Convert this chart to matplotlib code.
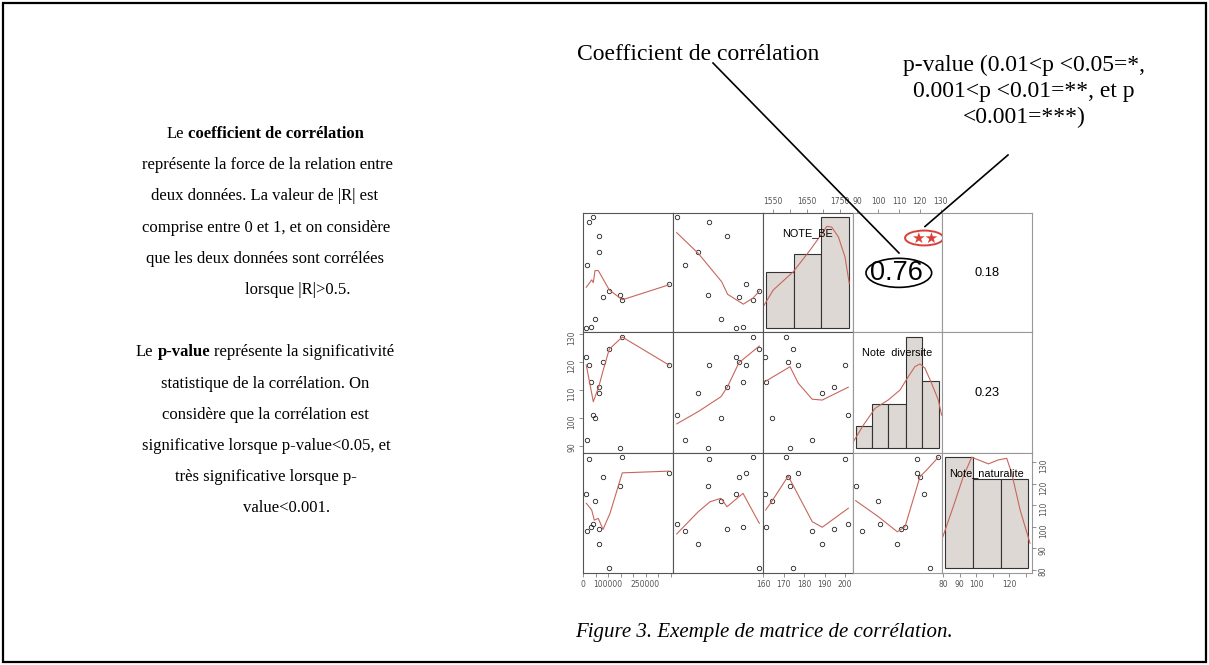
import matplotlib.pyplot as plt
from matplotlib.patches import Ellipse, Rectangle
from matplotlib.lines import Line2D

pop = [13200, 16000, 22800, 32000, 41200, 48000, 62800, 62800, 80000, 105200, 149200, 157200, 344000]
var1 = [69.7, 13.0, 40.0, 77.8, 4.1, 53.3, 60.0, 28.1, 73.3, 95.9, 39.2, 89.2, 81.4]
note_be = [161.0, 184.0, 200.0, 161.3, 201.6, 164.2, 194.8, 188.9, 172.3, 174.8, 173.2, 171.2, 177.2]
note_div = [121.9, 92.1, 118.9, 113.0, 101.1, 100.0, 111.0, 109.0, 119.9, 124.8, 89.2, 128.9, 118.9]
note_nat = [115.0, 97.9, 131.2, 100.0, 101.2, 112.1, 99.0, 91.9, 123.2, 80.8, 119.0, 132.5, 125.0]

col_vars = [pop, var1, note_be, note_div, note_nat]
row_vars = [note_be, note_div, note_nat]

# smoothing lines (panel.smooth) read per panel
smooth_x = {
    (0, 0): [13200, 34800, 41200, 48000, 61200, 105200, 157200, 344000],
    (0, 1): [4.1, 28.1, 54.1, 60.7, 78.1, 89.2, 95.9],
    (1, 0): [13200, 41200, 62800, 80000, 105200, 157200, 344000],
    (1, 1): [4.1, 28.1, 53.3, 60.3, 73.3, 95.9],
    (1, 2): [161.0, 173.2, 177.2, 184.0, 188.9, 201.6],
    (2, 0): [13200, 34800, 45200, 61200, 80000, 108000, 157200, 344000],
    (2, 1): [4.1, 28.1, 41.1, 53.3, 60.0, 77.8, 95.9],
    (2, 2): [161.3, 164.5, 172.3, 184.0, 188.9, 201.6],
    (2, 3): [89.2, 100.1, 109.2, 112.9, 120.1, 123.3, 128.9],
}
smooth_y = {
    (0, 0): [176.0, 178.7, 177.7, 182.1, 182.1, 175.0, 171.4, 176.9],
    (0, 1): [196.0, 188.4, 178.0, 173.4, 169.8, 172.1, 174.6],
    (1, 0): [118.9, 105.8, 111.1, 116.8, 124.6, 128.9, 118.9],
    (1, 1): [97.9, 102.3, 107.6, 111.0, 119.75, 125.7],
    (1, 2): [113.0, 118.3, 112.4, 106.7, 106.4, 111.0],
    (2, 0): [110.9, 107.8, 103.1, 103.9, 98.8, 106.25, 125.0, 125.8],
    (2, 1): [96.7, 107.0, 111.6, 113.2, 109.3, 115.5, 101.6],
    (2, 2): [107.8, 112.1, 123.5, 102.4, 99.8, 108.6],
    (2, 3): [112.1, 104.7, 97.7, 100.0, 123.2, 126.3, 132.2],
}

# diagonal histograms + density curves
hist_edges = {
    (0, 2): [161.5, 175.1, 188.3, 202.1],
    (1, 3): [89.2, 96.9, 104.9, 113.2, 121.2, 129.2],
    (2, 4): [81.2, 98.4, 115.2, 131.7],
}
hist_counts = {
    (0, 2): [3, 4, 6],
    (1, 3): [1, 2, 2, 5, 3],
    (2, 4): [5, 4, 4],
}
dens_x = {
    (0, 2): [160.1, 165.0, 174.8, 183.0, 188.7, 191.1, 193.5, 196.8, 200.0, 202.1],
    (1, 3): [88.1, 92.9, 98.5, 104.9, 110.5, 114.5, 117.7, 120.1, 122.5, 125.7, 128.9, 130.5],
    (2, 4): [79.2, 86.2, 92.3, 97.4, 107.5, 113.5, 118.6, 121.6, 126.7, 132.7],
}
dens_y = {
    (0, 2): [1.14, 2.04, 3.03, 4.20, 5.08, 5.48, 5.44, 4.90, 3.82, 2.38],
    (1, 3): [0.30, 1.04, 1.79, 2.17, 2.61, 3.21, 3.66, 3.78, 3.59, 2.91, 2.17, 1.49],
    (2, 4): [1.27, 2.77, 4.13, 5.0, 4.70, 4.88, 4.95, 4.28, 2.63, 1.13],
}
diag_labels = {(0, 2): 'NOTE_BE', (1, 3): 'Note  diversite', (2, 4): 'Note_naturalite'}
corr_text = {(0, 3): '0.76', (0, 4): '0.18', (1, 4): '0.23'}

# left paragraph: list of runs (text, weight) per line
left_lines = [
    [('Le', 'normal'), ('coefficient de corrélation', 'bold')],
    [('représente la force de la relation entre', 'normal')],
    [('deux données. La valeur de |R| est', 'normal')],
    [('comprise entre 0 et 1, et on considère', 'normal')],
    [('que les deux données sont corrélées', 'normal')],
    [('lorsque |R|>0.5.', 'normal')],
    [],
    [('Le', 'normal'), ('p-value', 'bold'), ('représente la significativité', 'normal')],
    [('statistique de la corrélation. On', 'normal')],
    [('considère que la corrélation est', 'normal')],
    [('significative lorsque p-value<0.05, et', 'normal')],
    [('très significative lorsque p-', 'normal')],
    [('value<0.001.', 'normal')],
]
left_centers = [265, 267, 265, 266, 265, 298, 0, 265, 265, 265, 266, 266, 287]

# --- layout ---
W, H = 1209, 665
fig = plt.figure(figsize=(W / 100, H / 100), dpi=100)


def fx(px):
    return px / W


def fy(py):
    return 1 - py / H


col_edges = [583, 673, 763, 853, 942, 1032]
row_edges = [213, 332, 453, 573]
col_xlim = [(0, 360000), (0, 100), (160, 203.9), (87.9, 130.7), (79.4, 133.9)]
row_ylim = [(159.6, 203.2), (87.5, 130.7), (78.6, 134.2)]
hist_ylim = {(0, 2): (-0.23, 6.2), (1, 3): (-0.21, 5.21), (2, 4): (-0.21, 5.19)}

red = '#c8665a'
tick_kw = dict(length=3, width=0.5, color='#666', labelsize=5.5, labelcolor='#555', pad=2)
axes = {}
for r in range(3):
    for c in range(5):
        l, rr = col_edges[c], col_edges[c + 1]
        t, b = row_edges[r], row_edges[r + 1]
        ax = fig.add_axes([fx(l), fy(b), (rr - l) / W, (b - t) / H])
        ax.set_xticks([])
        ax.set_yticks([])
        for s in ax.spines.values():
            s.set_color('#555' if c < 3 else '#999')
            s.set_linewidth(0.8)
        ax.set_xlim(col_xlim[c])
        axes[(r, c)] = ax
        if c < r + 2:
            ax.set_ylim(row_ylim[r])
            ax.plot(col_vars[c], row_vars[r], 'o', ms=3.2, mfc='none', mec='#222', mew=0.6)
            ax.plot(smooth_x[(r, c)], smooth_y[(r, c)], color=red, lw=0.8)
        elif c == r + 2:
            ax.set_ylim(hist_ylim[(r, c)])
            e = hist_edges[(r, c)]
            ax.bar(e[:-1], hist_counts[(r, c)], width=[e[i + 1] - e[i] for i in range(len(e) - 1)],
                   align='edge', color='#ddd8d4', edgecolor='#333', lw=0.8)
            ax.plot(dens_x[(r, c)], dens_y[(r, c)], color=red, lw=0.8)
            ax.text(0.495, 0.83, diag_labels[(r, c)], transform=ax.transAxes, ha='center', va='center',
                    fontsize=7.8, family='Liberation Sans')
        else:
            big = (r, c) == (0, 3)
            ax.text(0.49 if big else 0.5, 0.5, corr_text[(r, c)], transform=ax.transAxes,
                    ha='center', va='center', fontsize=19.5 if big else 9.3, family='Liberation Sans')

# axis ticks on outer panels
ax = axes[(2, 0)]
ax.set_xticks(range(0, 360001, 50000))
ax.set_xticklabels(['0', '', '100000', '', '', '250000', '', ''])
ax.tick_params(axis='x', **tick_kw)

ax = axes[(2, 2)]
ax.set_xticks([160, 170, 180, 190, 200])
ax.tick_params(axis='x', **tick_kw)

ax = axes[(2, 4)]
ax.set_xticks([80, 90, 100, 110, 120, 130])
ax.set_xticklabels(['80', '90', '100', '', '120', ''])
ax.tick_params(axis='x', **tick_kw)
axr = ax.twinx()
axr.set_ylim(row_ylim[2])
axr.set_yticks([80, 90, 100, 110, 120, 130])
axr.tick_params(axis='y', labelrotation=90, **tick_kw)
for s in axr.spines.values():
    s.set_visible(False)

ax = axes[(1, 0)]
ax.set_yticks([90, 100, 110, 120, 130])
ax.tick_params(axis='y', labelrotation=90, **tick_kw)

ax = axes[(0, 3)]
ax.set_xticks([90, 100, 110, 120, 130])
ax.xaxis.tick_top()
ax.tick_params(axis='x', **tick_kw)

ax = axes[(0, 2)]
axt = ax.twiny()
axt.set_xlim(1520.1, 1788.8)
axt.set_xticks([1550, 1600, 1650, 1700, 1750])
axt.set_xticklabels(['1550', '', '1650', '', '1750'])
axt.tick_params(axis='x', **tick_kw)
for s in axt.spines.values():
    s.set_visible(False)

# ellipses around the correlation value and the stars
ax = axes[(0, 3)]
ax.add_patch(Ellipse((0.515, 0.497), 0.738, 0.244, transform=ax.transAxes, fill=False,
                     ec='black', lw=1.2, clip_on=False))
ax.add_patch(Ellipse((0.80, 0.79), 0.43, 0.125, transform=ax.transAxes, fill=False,
                     ec='#d9403a', lw=1.4, clip_on=False))
ax.text(0.80, 0.785, '★★', transform=ax.transAxes, ha='center', va='center', color='#d9403a',
        fontsize=11, family='DejaVu Sans')

# pointer lines
fig.add_artist(Line2D([fx(713), fx(899)], [fy(63), fy(253)], color='black', lw=1.2))
fig.add_artist(Line2D([fx(1008), fx(925)], [fy(155), fy(226.5)], color='black', lw=1.2))

# annotations
serif = 'Liberation Serif'
fig.text(fx(577), fy(54), 'Coefficient de corrélation', fontsize=17, family=serif, va='center')
pval_lines = ['p-value (0.01<p <0.05=*,', '0.001<p <0.01=**, et p', '<0.001=***)']
for i, s in enumerate(pval_lines):
    fig.text(fx(1024), fy(65 + 26 * i), s, fontsize=17, family=serif, ha='center', va='center')

renderer = fig.canvas.get_renderer()
left_size = 12


def text_width(s, weight):
    t = fig.text(0, 0, s, fontsize=left_size, family=serif, fontweight=weight)
    w = t.get_window_extent(renderer).width
    t.remove()
    return w


space = text_width('a a', 'normal') - text_width('aa', 'normal')
for i, runs in enumerate(left_lines):
    if not runs:
        continue
    widths = [text_width(s, wt) for s, wt in runs]
    x = left_centers[i] - (sum(widths) + space * (len(runs) - 1)) / 2
    for (s, wt), w in zip(runs, widths):
        fig.text(fx(x), fy(138 + 31.2 * i), s, fontsize=left_size, family=serif,
                 fontweight=wt, va='baseline')
        x += w + space

fig.text(fx(575), fy(632), 'Figure 3. Exemple de matrice de corrélation.', fontsize=15,
         family=serif, style='italic', va='center')

fig.add_artist(Rectangle((fx(3), fy(662)), fx(1203), (659) / H, transform=fig.transFigure,
                         fill=False, ec='black', lw=1.6))

fig.savefig('out.png', dpi=100)
